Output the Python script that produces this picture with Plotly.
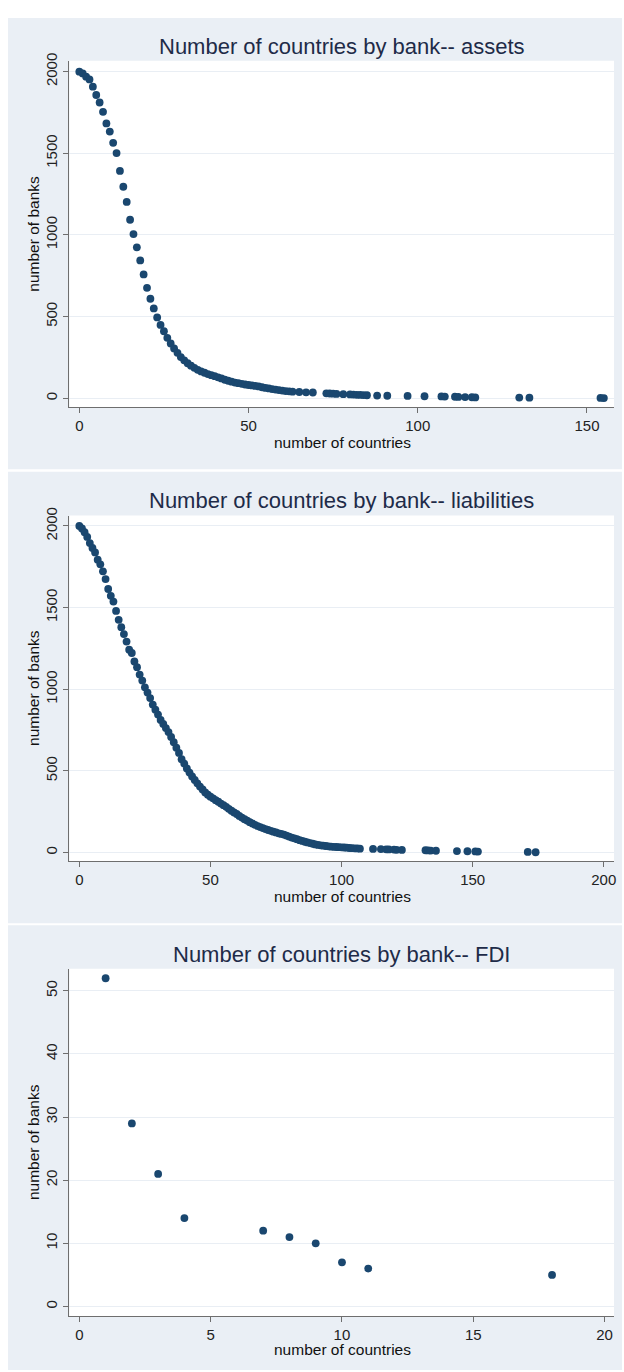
import plotly.graph_objects as go

# ---- data: number of banks operating in at least N countries ----
assets_countries = list(range(0, 63)) + [63, 65, 67, 69, 73, 74, 75, 76, 78, 80, 81, 82, 83, 84, 85,
                                         88, 91, 97, 102, 107, 108, 111, 112, 114, 116, 117, 130, 133, 154, 155]
assets_banks = [2000, 1989, 1969, 1952, 1908, 1857, 1811, 1754, 1683, 1633,
                1564, 1501, 1392, 1295, 1202, 1093, 1005, 924, 844, 758,
                676, 609, 550, 495, 449, 410, 370, 335, 305, 278,
                252, 232, 214, 199, 186, 174, 164, 156, 148, 141,
                135, 128, 121, 113, 107, 101, 96, 92, 88, 84,
                81, 78, 75, 72, 67, 63, 60, 56, 53, 50,
                47, 44, 42,
                40, 38, 36, 35, 30, 29, 28, 26, 25, 23, 22, 21, 20, 19, 18,
                16, 15, 14, 12, 11, 10, 9, 8, 7, 6, 5, 4, 3, 2, 1]

liab_countries = list(range(0, 108)) + [112, 115, 117, 118, 120, 121, 123, 132, 133, 134, 136,
                                        144, 148, 151, 152, 171, 174]
liab_banks = [2000, 1985, 1962, 1933, 1895, 1865, 1838, 1793, 1765, 1722,
              1675, 1614, 1572, 1537, 1480, 1425, 1380, 1338, 1292, 1242,
              1222, 1170, 1135, 1090, 1053, 1012, 980, 946, 906, 875,
              845, 812, 788, 762, 738, 708, 676, 642, 610, 572,
              545, 515, 490, 466, 445, 424, 404, 386, 368, 354,
              342, 332, 321, 311, 300, 290, 280, 268, 256, 246,
              236, 224, 214, 204, 196, 186, 178, 170, 162, 156,
              150, 144, 138, 133, 128, 123, 118, 114, 110, 104,
              98, 92, 87, 82, 76, 71, 66, 62, 58, 54,
              50, 47, 44, 42, 40, 38, 36, 35, 34, 33,
              32, 31, 30, 28, 27, 26, 25, 24,
              22, 21, 20, 19, 18, 17, 16, 14, 13, 12, 11,
              9, 8, 7, 6, 4, 2]

fdi_countries = [1, 2, 3, 4, 7, 8, 9, 10, 11, 18]
fdi_banks = [52, 29, 21, 14, 12, 11, 10, 7, 6, 5]

titles = ["Number of countries by bank-- assets",
          "Number of countries by bank-- liabilities",
          "Number of countries by bank-- FDI"]
x_label = "number of countries"
y_label = "number of banks"

# ---- styling ----
W, H = 624, 1372
FONT = "Liberation Sans, Arial, sans-serif"
NAVY = "#1a476f"
PANEL_BG = "#eaeff5"
GRID = "#e9eef4"
AXIS = "#6e6e6e"
TITLE_C = "#1e2b48"

def py(px):
    """convert a pixel row (from top) to paper y"""
    return 1 - px / H

plot_left, plot_right = 69.6, 616.0
panels = [
    # panel top/bottom, plot top/bottom, x range, y range, ticks
    dict(bg=(10, 464), plot=(53, 401.6), xr=[-2.94, 158.0], yr=[-55.4, 2067],
         xt=[0, 50, 100, 150], yt=[0, 500, 1000, 1500, 2000]),
    dict(bg=(466.5, 920.5), plot=(510.5, 858), xr=[-3.8, 203.9], yr=[-51.7, 2064],
         xt=[0, 50, 100, 150, 200], yt=[0, 500, 1000, 1500, 2000]),
    dict(bg=(922.6, 1370), plot=(966.4, 1315.6), xr=[-0.38, 20.36], yr=[-1.5, 53.5],
         xt=[0, 5, 10, 15, 20], yt=[0, 10, 20, 30, 40, 50]),
]
series = [(assets_countries, assets_banks),
          (liab_countries, liab_banks),
          (fdi_countries, fdi_banks)]

fig = go.Figure()
shapes = []
annotations = []
layout_axes = {}

for i, (p, (xs, ys), ttl) in enumerate(zip(panels, series, titles), start=1):
    xa = "x" if i == 1 else f"x{i}"
    ya = "y" if i == 1 else f"y{i}"
    fig.add_trace(go.Scatter(
        x=xs, y=ys, mode="markers", xaxis=xa, yaxis=ya,
        marker=dict(color=NAVY, size=7.8, line=dict(width=0)),
        showlegend=False, hoverinfo="x+y"))

    top, bot = p["bg"]
    shapes.append(dict(type="rect", xref="paper", yref="paper", layer="below",
                       x0=8 / W, x1=1, y0=py(bot), y1=py(top),
                       fillcolor=PANEL_BG, line=dict(width=0)))
    ptop, pbot = p["plot"]
    shapes.append(dict(type="rect", xref="paper", yref="paper", layer="below",
                       x0=plot_left / W, x1=plot_right / W, y0=py(pbot), y1=py(ptop),
                       fillcolor="white", line=dict(width=0)))

    common = dict(showline=True, linecolor=AXIS, linewidth=1.3, ticks="outside",
                  ticklen=5, tickwidth=1.2, tickcolor=AXIS, zeroline=False,
                  tickfont=dict(family=FONT, size=15, color="#222222"))
    layout_axes["xaxis" if i == 1 else f"xaxis{i}"] = dict(
        domain=[plot_left / W, plot_right / W], anchor=ya, range=p["xr"],
        tickvals=p["xt"], showgrid=False, ticklabelstandoff=0, **common)
    layout_axes["yaxis" if i == 1 else f"yaxis{i}"] = dict(
        domain=[py(pbot), py(ptop)], anchor=xa, range=p["yr"],
        tickvals=p["yt"], tickangle=-90, showgrid=True, gridcolor=GRID,
        gridwidth=1.2, **common)

    off = top - 10
    annotations.append(dict(text=ttl, xref="paper", yref="paper",
                            x=(plot_left + plot_right) / 2 / W, y=py(39 + off),
                            xanchor="center", yanchor="middle", showarrow=False,
                            font=dict(family=FONT, size=22, color=TITLE_C)))
    annotations.append(dict(text=x_label, xref="paper", yref="paper",
                            x=343.7 / W, y=py(437 + off),
                            xanchor="center", yanchor="middle", showarrow=False,
                            font=dict(family=FONT, size=15.5, color="#111111")))
    annotations.append(dict(text=y_label, xref="paper", yref="paper",
                            x=33.8 / W, y=py((ptop + pbot) / 2),
                            xanchor="center", yanchor="middle", showarrow=False,
                            textangle=-90,
                            font=dict(family=FONT, size=15.5, color="#111111")))

fig.update_layout(
    width=W, height=H, margin=dict(l=0, r=0, t=0, b=0),
    paper_bgcolor="white", plot_bgcolor="rgba(0,0,0,0)",
    shapes=shapes, annotations=annotations, **layout_axes)

fig.write_html("out.html")
